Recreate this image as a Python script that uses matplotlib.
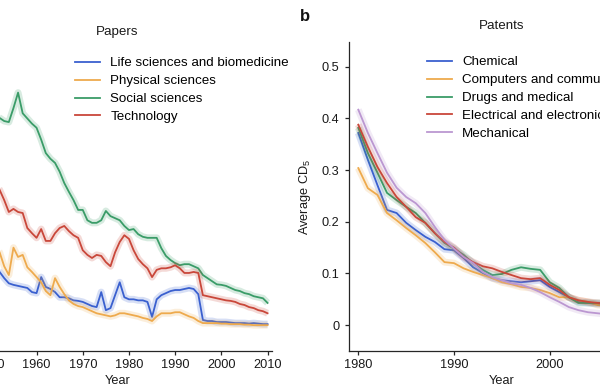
import matplotlib
matplotlib.use('Agg')
import matplotlib.pyplot as plt
import numpy as np

plt.rcParams['font.family'] = ['Liberation Sans', 'DejaVu Sans']
plt.rcParams['mathtext.fontset'] = 'custom'
plt.rcParams['mathtext.rm'] = 'Liberation Sans'
plt.rcParams['mathtext.it'] = 'Liberation Sans:italic'

# ---- papers (panel a), average CD5 per year ----
paper_years = list(range(1951, 2011))
life_sci = [0.110, 0.103, 0.091, 0.081, 0.078, 0.076, 0.074, 0.072, 0.064, 0.062,
            0.093, 0.074, 0.070, 0.064, 0.054, 0.054, 0.052, 0.048, 0.047, 0.045,
            0.041, 0.037, 0.035, 0.064, 0.029, 0.033, 0.058, 0.083, 0.054, 0.050,
            0.050, 0.048, 0.048, 0.045, 0.016, 0.050, 0.058, 0.062, 0.066, 0.068,
            0.068, 0.070, 0.072, 0.070, 0.060, 0.010, 0.008, 0.008, 0.006, 0.006,
            0.006, 0.005, 0.004, 0.004, 0.004, 0.003, 0.004, 0.003, 0.002, 0.002]
phys_sci = [0.155, 0.141, 0.114, 0.097, 0.150, 0.132, 0.136, 0.112, 0.103, 0.093,
            0.083, 0.066, 0.058, 0.091, 0.074, 0.060, 0.048, 0.041, 0.037, 0.035,
            0.031, 0.027, 0.023, 0.021, 0.019, 0.017, 0.019, 0.023, 0.023, 0.021,
            0.019, 0.017, 0.014, 0.012, 0.008, 0.017, 0.023, 0.023, 0.023, 0.025,
            0.025, 0.021, 0.017, 0.014, 0.008, 0.004, 0.004, 0.004, 0.004, 0.003,
            0.003, 0.002, 0.002, 0.002, 0.001, 0.001, 0.000, 0.000, 0.000, 0.000]
soc_sci = [0.407, 0.401, 0.395, 0.393, 0.420, 0.450, 0.410, 0.400, 0.390, 0.382,
           0.359, 0.333, 0.322, 0.314, 0.297, 0.275, 0.258, 0.242, 0.223, 0.223,
           0.203, 0.198, 0.198, 0.203, 0.221, 0.211, 0.207, 0.203, 0.192, 0.184,
           0.186, 0.176, 0.171, 0.169, 0.169, 0.169, 0.149, 0.134, 0.126, 0.120,
           0.116, 0.118, 0.118, 0.114, 0.110, 0.097, 0.091, 0.085, 0.079, 0.078,
           0.076, 0.072, 0.068, 0.066, 0.062, 0.060, 0.056, 0.054, 0.052, 0.043]
technology = [0.275, 0.262, 0.242, 0.219, 0.225, 0.219, 0.217, 0.188, 0.178, 0.169,
              0.186, 0.163, 0.163, 0.178, 0.188, 0.192, 0.182, 0.174, 0.169, 0.145,
              0.136, 0.130, 0.136, 0.134, 0.122, 0.114, 0.141, 0.161, 0.174, 0.167,
              0.145, 0.128, 0.118, 0.110, 0.093, 0.107, 0.110, 0.110, 0.112, 0.116,
              0.110, 0.101, 0.101, 0.103, 0.101, 0.058, 0.056, 0.054, 0.052, 0.050,
              0.048, 0.047, 0.045, 0.041, 0.039, 0.035, 0.033, 0.029, 0.027, 0.023]

# ---- patents (panel b) ----
patent_years = list(range(1980, 2007))
chemical = [0.372, 0.320, 0.271, 0.223, 0.217, 0.198, 0.184, 0.171, 0.161, 0.147,
            0.145, 0.130, 0.112, 0.101, 0.091, 0.087, 0.085, 0.083, 0.085, 0.087,
            0.074, 0.064, 0.054, 0.045, 0.043, 0.041, 0.040]
computers = [0.304, 0.265, 0.252, 0.217, 0.203, 0.188, 0.174, 0.159, 0.141, 0.122,
             0.120, 0.110, 0.103, 0.097, 0.091, 0.083, 0.079, 0.074, 0.072, 0.068,
             0.062, 0.054, 0.054, 0.048, 0.045, 0.039, 0.037]
drugs = [0.382, 0.333, 0.295, 0.256, 0.242, 0.229, 0.217, 0.198, 0.178, 0.159,
         0.148, 0.136, 0.120, 0.107, 0.097, 0.099, 0.107, 0.112, 0.109, 0.107,
         0.083, 0.072, 0.054, 0.043, 0.043, 0.043, 0.042]
electrical = [0.388, 0.345, 0.306, 0.275, 0.248, 0.229, 0.209, 0.198, 0.178, 0.161,
              0.150, 0.132, 0.122, 0.114, 0.110, 0.103, 0.097, 0.091, 0.089, 0.091,
              0.078, 0.068, 0.054, 0.048, 0.045, 0.043, 0.042]
mechanical = [0.417, 0.372, 0.333, 0.295, 0.266, 0.248, 0.236, 0.217, 0.190, 0.165,
              0.148, 0.132, 0.120, 0.103, 0.093, 0.087, 0.081, 0.078, 0.072, 0.064,
              0.054, 0.045, 0.035, 0.029, 0.025, 0.023, 0.021]

BLUE, ORANGE, GREEN, RED, PURPLE = '#3a60cf', '#eeaa4d', '#3a9c68', '#c9473a', '#bb97d1'
INK = '#262626'
yticks = [0, 0.1, 0.2, 0.3, 0.4, 0.5]
ytick_labels = ['0', '0.1', '0.2', '0.3', '0.4', '0.5']


def draw(ax, x, y, color, label):
    # faint band under each line (the CI shading)
    ax.plot(x, y, color=color, lw=5, alpha=0.2, solid_capstyle='butt')
    ax.plot(x, y, color=color, lw=1.3, label=label)


def style(ax):
    for s in ['top', 'right']:
        ax.spines[s].set_visible(False)
    for s in ['left', 'bottom']:
        ax.spines[s].set_color(INK)
        ax.spines[s].set_linewidth(0.9)
    ax.tick_params(colors=INK, labelcolor='#1a1a1a', length=3, width=0.9,
                   labelsize=9.2, pad=3)
    ax.set_ylim(-0.05, 0.548)
    ax.set_yticks(yticks)
    ax.set_xlabel('Year', fontsize=9.2, labelpad=3, color='#1a1a1a')


def add_legend(ax, left_px, top_px):
    h = [l for l in ax.get_lines() if l.get_label()[0] != '_']
    ax.legend(handles=h, loc='upper left',
              bbox_to_anchor=(left_px / 600, 1 - top_px / 392),
              bbox_transform=fig.transFigure, frameon=False, fontsize=9.6,
              handlelength=1.9, handletextpad=0.75, labelspacing=0.42,
              borderaxespad=0, borderpad=0)


fig = plt.figure(figsize=(6.0, 3.92), dpi=100)

# panel a is partly outside the figure on the left
ax1 = fig.add_axes([-0.0623, 0.1046, 0.5152, 0.7883])
draw(ax1, paper_years, life_sci, BLUE, 'Life sciences and biomedicine')
draw(ax1, paper_years, phys_sci, ORANGE, 'Physical sciences')
draw(ax1, paper_years, soc_sci, GREEN, 'Social sciences')
draw(ax1, paper_years, technology, RED, 'Technology')
style(ax1)
ax1.set_yticklabels([])  # these sit off the page in the reference
ax1.set_xlim(1944, 2010.9)
ax1.set_xticks([1950, 1960, 1970, 1980, 1990, 2000, 2010])
ax1.set_title('Papers', fontsize=9.6, pad=5, color='#1a1a1a')
add_legend(ax1, 75, 57)

# panel b runs off the right edge
ax2 = fig.add_axes([0.5817, 0.1046, 0.51, 0.7883])
draw(ax2, patent_years, chemical, BLUE, 'Chemical')
draw(ax2, patent_years, computers, ORANGE, 'Computers and communications')
draw(ax2, patent_years, drugs, GREEN, 'Drugs and medical')
draw(ax2, patent_years, electrical, RED, 'Electrical and electronic')
draw(ax2, patent_years, mechanical, PURPLE, 'Mechanical')
style(ax2)
ax2.set_yticklabels(ytick_labels)
ax2.set_xlim(1979.03, 2011)
ax2.set_xticks([1980, 1990, 2000])
ax2.tick_params(axis='y', pad=4)
ax2.set_ylabel('Average CD$_5$', fontsize=9.2, labelpad=6, color='#1a1a1a')
ax2.set_title('Patents', fontsize=9.6, pad=9, color='#1a1a1a')
add_legend(ax2, 427, 56)

fig.text(300 / 600, 1 - 21 / 392, 'b', fontsize=12, fontweight='bold', color='#111111')

fig.savefig('out.png', dpi=100)
